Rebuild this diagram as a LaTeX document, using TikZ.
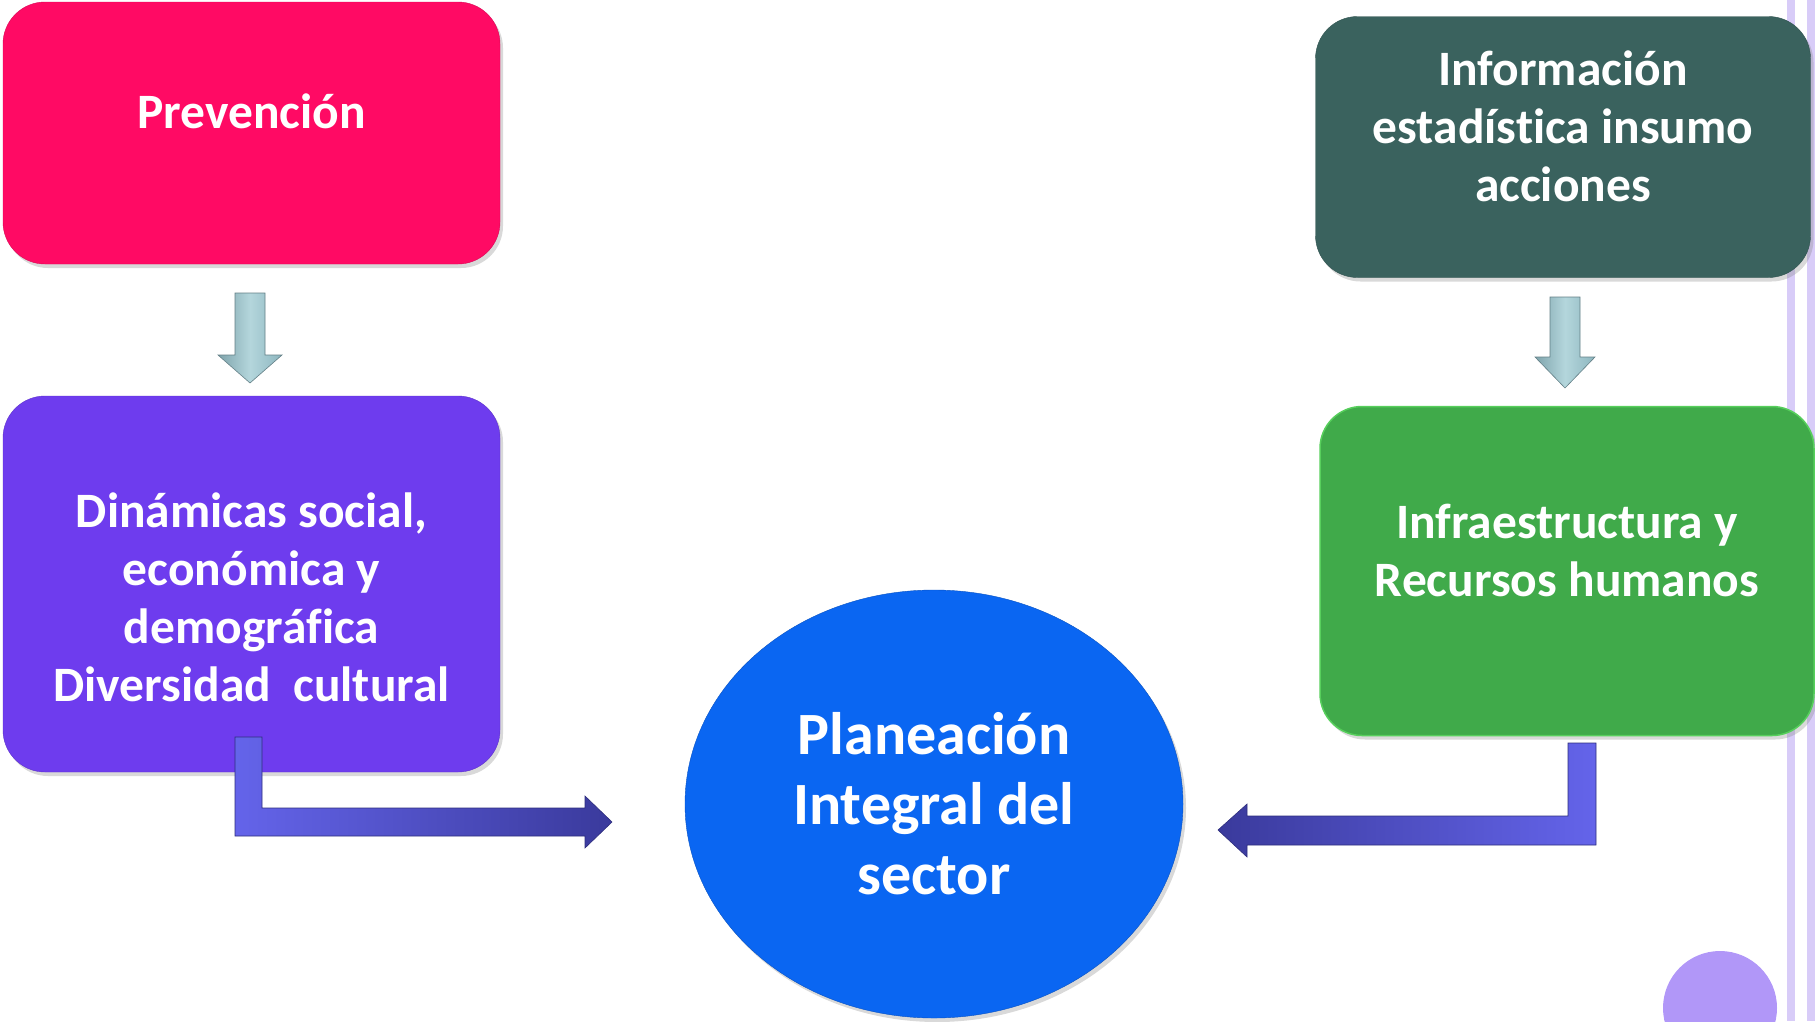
\documentclass[tikz,border=0pt]{standalone}
\usepackage{fontspec}
\setmainfont{Carlito}[Ligatures=NoCommon]
\usetikzlibrary{shapes.geometric,shadows}
\definecolor{prevpink}{HTML}{FF0A64}
\definecolor{dinpurple}{HTML}{6E3CEE}
\definecolor{infoteal}{HTML}{3A625E}
\definecolor{infragreen}{HTML}{40AA4A}
\definecolor{planblue}{HTML}{0A66F2}
\definecolor{arrteal}{HTML}{8DB6BF}
\definecolor{arrlight}{HTML}{B4D6DC}
\definecolor{bentlight}{HTML}{6464EA}
\definecolor{bentdark}{HTML}{3A3A9C}
\definecolor{lavline}{HTML}{D8CCF8}
\definecolor{lavdot}{HTML}{B197F8}

\begin{document}
\begin{tikzpicture}[x=1pt, y=-1pt,
  box/.style={rounded corners=42pt, minimum width=497pt,
    drop shadow={shadow xshift=3pt, shadow yshift=-4pt, opacity=.3}},
  boxtext/.style={align=center, text=white, font=\bfseries\fontsize{49.5}{58}\selectfont},
  downarr/.style={left color=arrteal!90!black, right color=arrteal, middle color=arrlight,
    draw=arrteal!70!black, line width=.6pt},
  bentarr/.style={draw=bentdark!80!black, line width=.6pt}]

\useasboundingbox (0,0) rectangle (1815,1021);

% side decoration
\fill[lavline] (1787,0) rectangle (1795,1021);
\fill[lavline] (1807,0) rectangle (1815,1021);
\fill[lavdot] (1720,1008) circle (57);

% --- boxes ---
\node[box, fill=prevpink, minimum height=262pt, draw=prevpink!85!black] (prev) at (251.5,133) {};
\node[box, fill=dinpurple, minimum height=376pt, draw=dinpurple!85!black] (din) at (251.5,584) {};
\node[box, fill=infoteal, minimum height=261pt, minimum width=495pt, draw=infoteal!85!black] (info) at (1563,147) {};
\node[box, fill=infragreen, minimum height=329pt, minimum width=494pt,
  draw=infragreen!70!green!80!white, line width=1.5pt] (infra) at (1567,571) {};
\node[ellipse, fill=planblue, draw=planblue!80!black, minimum width=498pt, minimum height=428pt,
  inner sep=0pt, align=center, text=white, font=\bfseries\fontsize{60}{70}\selectfont,
  drop shadow={shadow xshift=3pt, shadow yshift=-4pt, opacity=.3}] (plan) at (934,804)
  {Planeación\\Integral del\\sector};

% --- box texts ---
\node[boxtext] (prevtext) at ([yshift=22pt]prev.center) {Prevención};
\node[boxtext] (dintext) at ([yshift=-13pt]din.center)
  {Dinámicas social,\\económica y\\demográfica\\Diversidad\ \ cultural};
\node[boxtext] (infotext) at ([yshift=21pt]info.center)
  {Información\\estadística insumo\\acciones};
\node[boxtext] (infratext) at ([yshift=21pt]infra.center)
  {Infraestructura y\\Recursos humanos};

% --- arrow anchors ---
\coordinate (prevfoot)  at (235,293);
\coordinate (infofoot)  at (1550,297);
\coordinate (dinfoot)   at (235,737);
\coordinate (infrafoot) at (1596,743);

% --- down arrows ---
\draw[downarr] (prevfoot) -- ++(0,62) -- ++(-17,0) -- ++(32,28) -- ++(32,-28)
  -- ++(-17,0) -- ++(0,-62) -- cycle;
\draw[downarr] (infofoot) -- ++(0,60) -- ++(-15,0) -- ++(30,31) -- ++(30,-31)
  -- ++(-15,0) -- ++(0,-60) -- cycle;

% --- bent arrows into the ellipse ---
\draw[bentarr, left color=bentlight, right color=bentdark]
  (dinfoot) -- ++(0,99) -- (585,836) -- (585,848) -- (612,822) -- (585,796)
  -- (585,808) -- (262,808) -- (262,737) -- cycle;
\draw[bentarr, left color=bentdark, right color=bentlight]
  (infrafoot) -- ++(0,102) -- (1247,845) -- (1247,857) -- (1218,830) -- (1247,804)
  -- (1247,816) -- (1568,816) -- (1568,743) -- cycle;

\end{tikzpicture}
\end{document}
